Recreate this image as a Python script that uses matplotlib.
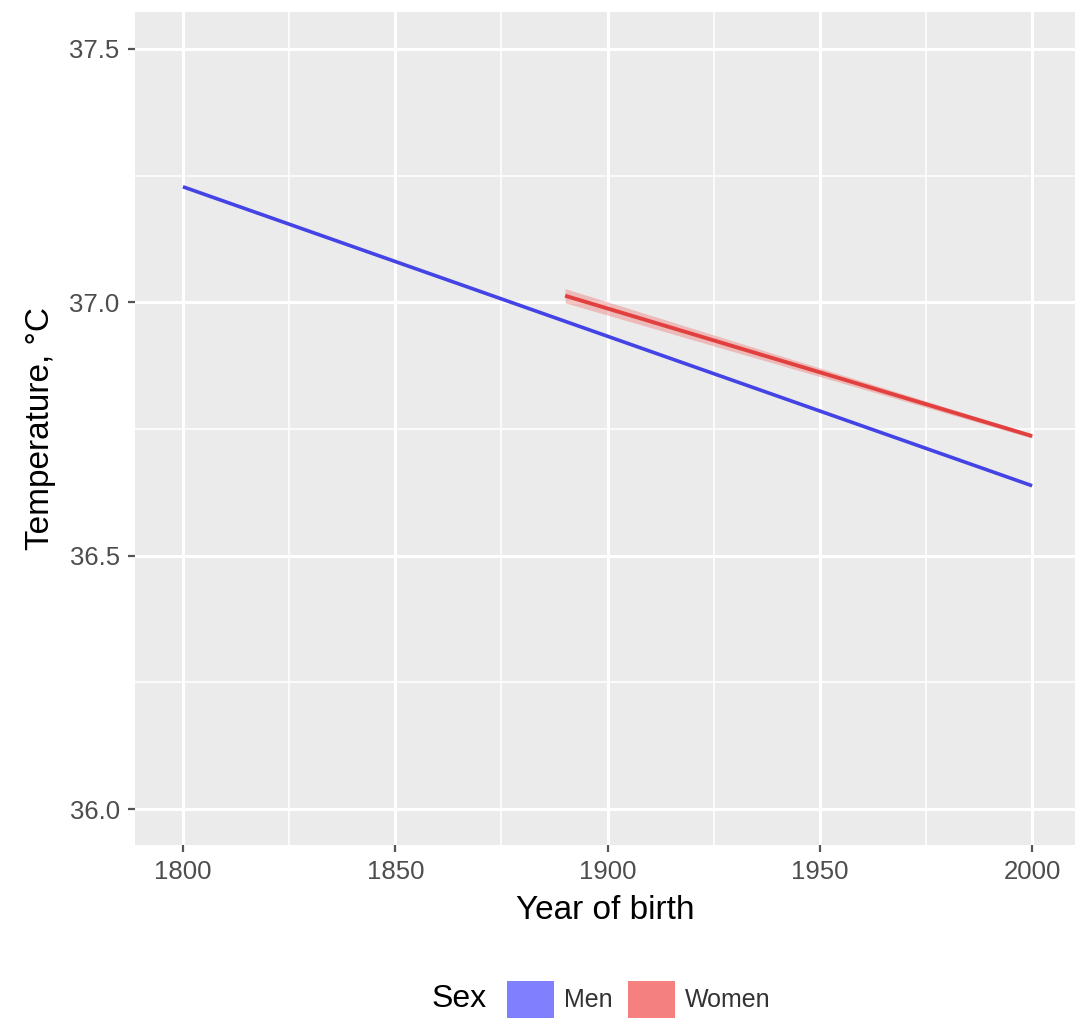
import matplotlib
matplotlib.use("Agg")
import matplotlib.pyplot as plt
from matplotlib.patches import Patch
from matplotlib.ticker import MultipleLocator

plt.rcParams["font.family"] = ["Liberation Sans", "DejaVu Sans"]

# fitted trend lines (start/end of each regression line)
men_years = [1800, 2000]
men_temp = [37.228, 36.638]
women_years = [1890, 2000]
women_temp = [37.013, 36.736]
women_lo = [36.999, 36.732]
women_hi = [37.027, 36.740]

fig = plt.figure(figsize=(10.79, 10.32), dpi=100)
ax = fig.add_axes([0.1251, 0.1812, 0.8712, 0.8072])
ax.set_facecolor("#ebebeb")

ax.fill_between(women_years, women_lo, women_hi, color="#f08080", alpha=0.45, lw=0)
ax.plot(men_years, men_temp, color="#4343e6", lw=2.6, solid_capstyle="butt")
ax.plot(women_years, women_temp, color="#e2403f", lw=2.8, solid_capstyle="butt")

ax.set_xlim(1788.7, 2010.1)
ax.set_ylim(35.929, 37.573)
ax.xaxis.set_major_locator(MultipleLocator(50))
ax.xaxis.set_minor_locator(MultipleLocator(25))
ax.yaxis.set_major_locator(MultipleLocator(0.5))
ax.yaxis.set_minor_locator(MultipleLocator(0.25))
ax.yaxis.set_major_formatter(matplotlib.ticker.FormatStrFormatter("%.1f"))
ax.grid(which="major", color="white", lw=2.2)
ax.grid(which="minor", color="white", lw=1.1)
ax.set_axisbelow(True)
for s in ax.spines.values():
    s.set_visible(False)
ax.tick_params(which="major", length=5, width=1.6, color="#555555",
               labelsize=18.5, labelcolor="#4d4d4d", pad=6)
ax.tick_params(which="minor", length=0)

ax.set_xlabel("Year of birth", fontsize=24, labelpad=8)
ax.set_ylabel("Temperature, °C", fontsize=24, labelpad=10)

handles = [Patch(facecolor="#8080ff", label="Men"),
           Patch(facecolor="#f58080", label="Women")]
fig.text(0.400, 0.0315, "Sex", fontsize=23, va="center", ha="left")
leg = fig.legend(handles=handles, ncol=2, loc="center left", bbox_to_anchor=(0.458, 0.0315),
                 frameon=False, fontsize=18, handlelength=1.9, handleheight=1.9,
                 handletextpad=0.4, columnspacing=0.6, borderpad=0)
for t in leg.get_texts():
    t.set_color("#333333")

fig.savefig("out.png", dpi=100)
